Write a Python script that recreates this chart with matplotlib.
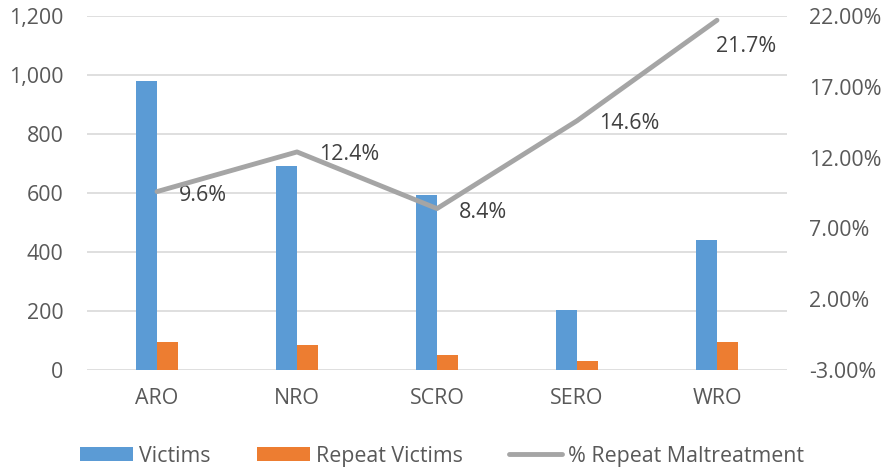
import matplotlib
matplotlib.use("Agg")
import matplotlib.pyplot as plt
import numpy as np
from matplotlib.ticker import FuncFormatter, FixedLocator

categories = ["ARO", "NRO", "SCRO", "SERO", "WRO"]
victims = [980, 693, 592, 205, 442]
repeat_victims = [94, 86, 50, 30, 96]
pct_repeat = [9.6, 12.4, 8.4, 14.6, 21.7]
left_ticks = [0, 200, 400, 600, 800, 1000, 1200]
right_ticks = [-3, 2, 7, 12, 17, 22]

plt.rcParams['font.family'] = ['Open Sans', 'DejaVu Sans']
txt = '#595959'
fs = 15.4

fig = plt.figure(figsize=(8.84, 4.69), dpi=100)
ax = fig.add_axes([87/884, 1-370/469, 700/884, 354/469])
x = np.arange(len(categories))
w = 0.15
ax.bar(x - w/2, victims, w, color='#5B9BD5', label='Victims', zorder=3)
ax.bar(x + w/2, repeat_victims, w, color='#ED7D31', label='Repeat Victims', zorder=3)
ax.set_xlim(-0.5, len(categories) - 0.5)
ax.set_ylim(0, 1200)
ax.yaxis.set_major_locator(FixedLocator(left_ticks))
ax.yaxis.set_major_formatter(FuncFormatter(lambda v, p: f"{int(v):,}"))
ax.set_xticks(x)
ax.set_xticklabels(categories)
ax.grid(axis='y', color='#D9D9D9', linewidth=1.2, zorder=0)
for s in ax.spines.values():
    s.set_visible(False)
ax.tick_params(axis='y', length=0, labelsize=fs, colors=txt, pad=17)
ax.tick_params(axis='x', length=0, labelsize=fs, colors=txt, pad=13)

ax2 = ax.twinx()
ax2.set_ylim(-3, 22)
ax2.yaxis.set_major_locator(FixedLocator(right_ticks))
ax2.yaxis.set_major_formatter(FuncFormatter(lambda v, p: f"{v:.2f}%"))
for s in ax2.spines.values():
    s.set_visible(False)
ax2.tick_params(axis='y', length=0, labelsize=fs, colors=txt, pad=16)
ln, = ax2.plot(x, pct_repeat, color='#A5A5A5', linewidth=3.5, solid_capstyle='round',
               label='% Repeat Maltreatment', zorder=4)
offsets = [(22, -4), (22, -3), (22, -4), (22, -3), (-1, -26)]
for i, v in enumerate(pct_repeat):
    dx, dy = offsets[i]
    ax2.annotate(f"{v:.1f}%", (x[i], v), xytext=(dx, dy), textcoords='offset pixels',
                 ha='left', va='center', fontsize=fs, color='#404040')

h1, l1 = ax.get_legend_handles_labels()
fig.legend(h1 + [ln], l1 + [ln.get_label()], loc='center', bbox_to_anchor=(0.5, 1-456/469),
           ncol=3, frameon=False, fontsize=fs, labelcolor=txt, handlelength=2.45,
           handleheight=0.6, handletextpad=0.28, columnspacing=2.2, borderpad=0)

fig.savefig("out.png", dpi=100)
